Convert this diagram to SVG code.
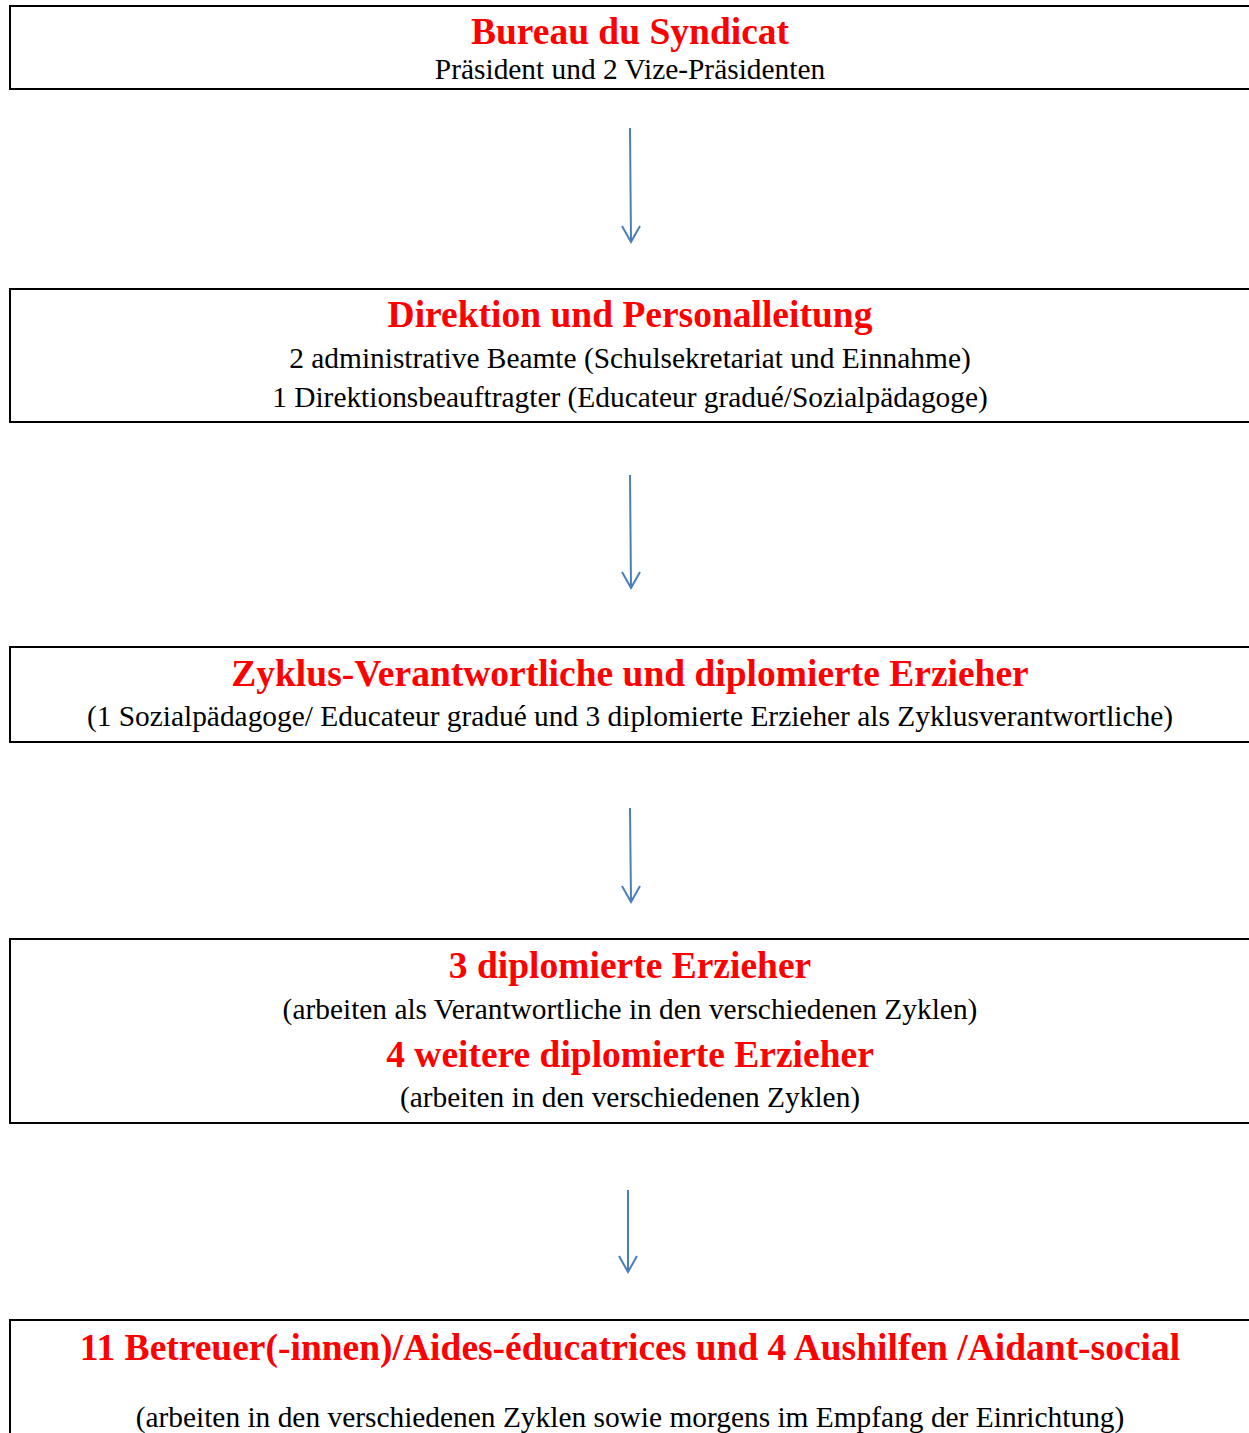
<svg xmlns="http://www.w3.org/2000/svg" width="1249" height="1433" viewBox="0 0 1249 1433">
<style>
.box{fill:#fff;stroke:#000;stroke-width:2}
.t{font-family:"Liberation Serif","Times New Roman",serif;font-weight:bold;fill:#ff0000;font-size:37.5px;text-anchor:middle}
.s{font-family:"Liberation Serif","Times New Roman",serif;fill:#000;font-size:29.4px;text-anchor:middle}
.c{fill:none;stroke:#4a7ebb;stroke-width:2}
</style>
<rect width="1249" height="1433" fill="#fff"/>
<g id="node1">
<rect class="box" x="10" y="6" width="1250" height="83"/>
<text class="t" x="630" y="44">Bureau du Syndicat</text>
<text class="s" x="630" y="79">Präsident und 2 Vize-Präsidenten</text>
</g>
<g id="node2">
<rect class="box" x="10" y="289" width="1250" height="133"/>
<text class="t" x="630" y="327">Direktion und Personalleitung</text>
<text class="s" x="630" y="368">2 administrative Beamte (Schulsekretariat und Einnahme)</text>
<text class="s" x="630" y="407">1 Direktionsbeauftragter (Educateur gradué/Sozialpädagoge)</text>
</g>
<g id="node3">
<rect class="box" x="10" y="647" width="1250" height="95"/>
<text class="t" x="630" y="686">Zyklus-Verantwortliche und diplomierte Erzieher</text>
<text class="s" x="630" y="726">(1 Sozialpädagoge/ Educateur gradué und 3 diplomierte Erzieher als Zyklusverantwortliche)</text>
</g>
<g id="node4">
<rect class="box" x="10" y="939" width="1250" height="184"/>
<text class="t" x="630" y="978">3 diplomierte Erzieher</text>
<text class="s" x="630" y="1019">(arbeiten als Verantwortliche in den verschiedenen Zyklen)</text>
<text class="t" x="630" y="1067">4 weitere diplomierte Erzieher</text>
<text class="s" x="630" y="1107">(arbeiten in den verschiedenen Zyklen)</text>
</g>
<g id="node5">
<rect class="box" x="10" y="1320" width="1250" height="140"/>
<text class="t" x="630" y="1360">11 Betreuer(-innen)/Aides-éducatrices und 4 Aushilfen /Aidant-social</text>
<text class="s" x="630" y="1427">(arbeiten in den verschiedenen Zyklen sowie morgens im Empfang der Einrichtung)</text>
</g>
<g id="connectors">
<path class="c" d="M630 128 L631 242 M622 226 L631 242 L640 226"/>
<path class="c" d="M630 475 L631 588 M622 572 L631 588 L640 572"/>
<path class="c" d="M630 808 L631 902 M622 886 L631 902 L640 886"/>
<path class="c" d="M628 1190 L628 1272 M619 1256 L628 1272 L637 1256"/>
</g>
</svg>
